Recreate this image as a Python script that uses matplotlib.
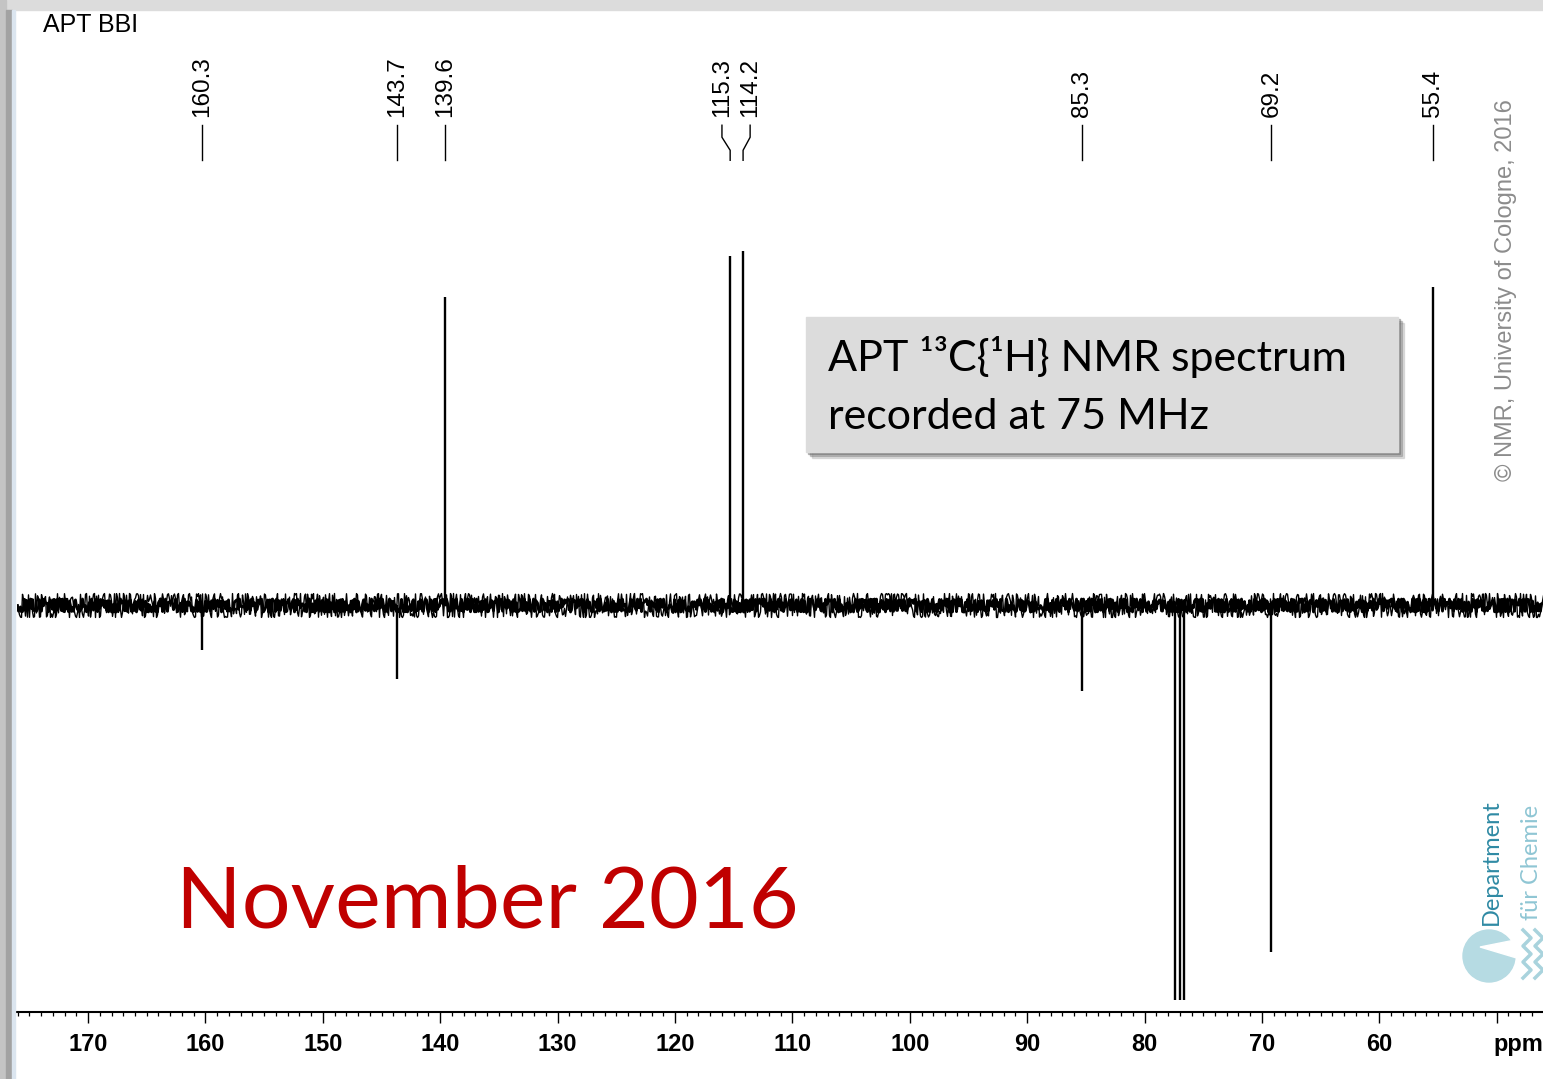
import matplotlib.pyplot as plt
from matplotlib.patches import Rectangle, Circle, Polygon
from matplotlib.ticker import MultipleLocator

# peaks: chemical shift (ppm) and intensity (baseline 0, CDCl3 triplet = -1)
peak_ppm = [160.3, 143.7, 139.6, 115.3, 114.2, 85.3, 77.4, 77.0, 76.6, 69.2, 55.4]
peak_int = [-0.114, -0.187, 0.780, 0.884, 0.896, -0.218, -1.0, -1.0, -1.0, -0.878, 0.805]

# picked peak labels at the top (ppm of peak, ppm where the label sits)
label_ppm = [160.3, 143.7, 139.6, 115.3, 114.2, 85.3, 69.2, 55.4]
label_pos = [160.3, 143.7, 139.6, 116.0, 113.6, 85.3, 69.2, 55.4]
label_txt = ['160.3', '143.7', '139.6', '115.3', '114.2', '85.3', '69.2', '55.4']

tick_vals = [170, 160, 150, 140, 130, 120, 110, 100, 90, 80, 70, 60, 50]
tick_txt = ['170', '160', '150', '140', '130', '120', '110', '100', '90', '80', '70', '60', '']

W, H = 1543, 1079
fig = plt.figure(figsize=(W / 100, H / 100), dpi=100)
fig.patch.set_facecolor('white')


def fx(x):
    return x / W


def fy(y):
    return 1 - y / H


ax = fig.add_axes([fx(17), fy(1012), fx(W - 17), (1012 - 10) / H])
ax.set_facecolor('none')
ax.set_xlim(176.05, 46.06)
ax.set_ylim(-1.030, 1.506)

# baseline noise drawn as sketched lines
core, = ax.plot([176.05, 46.06], [0, 0], color='black', lw=2.0)
core.set_sketch_params(scale=6.5, length=1.5, randomness=4)
spikes, = ax.plot([176.05, 46.06], [0, 0], color='black', lw=1.0)
spikes.set_sketch_params(scale=12, length=3, randomness=6)

ax.vlines(peak_ppm, 0, peak_int, color='black', lw=1.7)

trans = ax.get_xaxis_transform()
for p, lp, t in zip(label_ppm, label_pos, label_txt):
    ax.plot([lp, lp, p, p], [0.885, 0.873, 0.860, 0.850], transform=trans,
            color='black', lw=1.0)
    ax.text(lp, 0.893, t, rotation=90, ha='center', va='bottom', transform=trans,
            fontsize=17.5, family='Liberation Sans')

for s in ['left', 'right', 'top']:
    ax.spines[s].set_visible(False)
ax.spines['bottom'].set_linewidth(1.5)
ax.set_yticks([])
ax.set_xticks(tick_vals)
ax.set_xticklabels(tick_txt, fontsize=17, fontweight='bold', family='Liberation Sans')
ax.xaxis.set_minor_locator(MultipleLocator(1))
ax.tick_params(axis='x', which='major', direction='out', length=8, width=1.0, pad=7)
ax.tick_params(axis='x', which='minor', direction='out', length=3, width=0.9)
ax.text(50.3, -0.021, 'ppm', transform=trans, ha='left', va='top',
        fontsize=17, fontweight='bold', family='Liberation Sans')

fig.text(fx(43), fy(32), 'APT BBI', fontsize=18, family='Liberation Sans',
         va='baseline', ha='left')

# window frame
fig.patches.append(Rectangle((0, fy(10)), 1, 10 / H, transform=fig.transFigure,
                             color='#dcdcdc', zorder=5))
fig.patches.append(Rectangle((0, 0), fx(6), 1, transform=fig.transFigure,
                             color='#c4c4c4', zorder=5))
fig.patches.append(Rectangle((fx(6), 0), fx(6), fy(10), transform=fig.transFigure,
                             color='#a2a2a2', zorder=5))
fig.patches.append(Rectangle((fx(12), 0), fx(3), fy(10), transform=fig.transFigure,
                             color='#dbe5ef', zorder=5))

# annotation box with shadow
for off, a in [(6, 0.18), (4, 0.3), (2, 0.4)]:
    fig.patches.append(Rectangle((fx(806 + off), fy(452 + off)), 592 / W, 135 / H,
                                 transform=fig.transFigure, color='#606060',
                                 alpha=a, zorder=6))
fig.patches.append(Rectangle((fx(806), fy(452)), 592 / W, 135 / H,
                             transform=fig.transFigure, color='#dcdcdc', zorder=7))
fig.text(fx(828), fy(371), 'APT ¹³C{¹H} NMR spectrum', fontsize=31, family='Lato',
         va='baseline', ha='left', zorder=8)
fig.text(fx(828), fy(429), 'recorded at 75 MHz', fontsize=31, family='Lato',
         va='baseline', ha='left', zorder=8)

fig.text(fx(176), fy(927), 'November 2016', fontsize=62, family='Lato',
         color='#c00000', va='baseline', ha='left')

fig.text(fx(1506), fy(290), '© NMR, University of Cologne, 2016', rotation=90,
         fontsize=17, family='Liberation Sans', color='#8c8c8c',
         ha='center', va='center')

# department logo
fig.text(fx(1491), fy(862), 'Department', rotation=90, fontsize=17, family='Lato',
         color='#2f8aa4', ha='center', va='center')
fig.text(fx(1532), fy(862), 'für Chemie', rotation=90, fontsize=17, family='Lato',
         color='#8fc6d4', ha='center', va='center')
fig.patches.append(Circle((14.89, 1.23), 0.26, transform=fig.dpi_scale_trans,
                          color='#b6dbe3', zorder=6))
fig.patches.append(Polygon([(15.20, 1.40), (14.80, 1.32), (15.20, 1.20)],
                           transform=fig.dpi_scale_trans, color='white', zorder=6))
for x0 in [1527, 1539]:
    ys = [930, 938, 946, 954, 962, 970, 978]
    xs = [x0 + (4 if i % 2 else -4) for i in range(len(ys))]
    fig.lines.append(plt.Line2D([fx(x) for x in xs], [fy(y) for y in ys],
                                transform=fig.transFigure, color='#a9d3dd', lw=2.5))

fig.savefig('out.png', dpi=100)
